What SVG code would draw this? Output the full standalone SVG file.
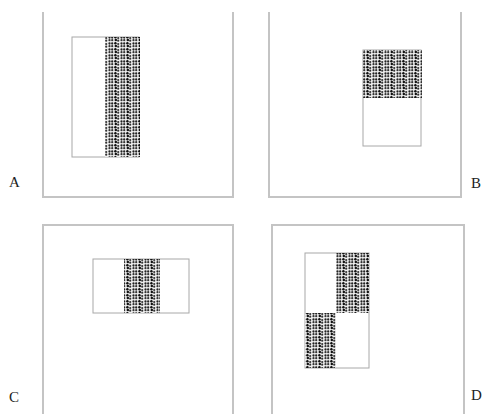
<svg xmlns="http://www.w3.org/2000/svg" width="488" height="414" viewBox="0 0 488 414">
<style>
.frame{fill:none;stroke:#c4c4c4;stroke-width:2}
.box{fill:#fff;stroke:#a8a8a8;stroke-width:1}
.dots{fill:url(#dp);stroke:none}
.lbl{font-family:"Liberation Serif",serif;font-size:15px;fill:#222}
</style>
<defs>
<pattern id="dp" patternUnits="userSpaceOnUse" width="12" height="6">
<rect width="12" height="6" fill="#eeeeee"/>
<circle cx="1.5" cy="1.5" r="1.15" fill="#222"/>
<circle cx="4.2" cy="1.5" r="1.15" fill="#222"/>
<circle cx="1.5" cy="4.2" r="1.1" fill="#333"/>
<circle cx="4.2" cy="4.2" r="1.1" fill="#333"/>
<circle cx="7.4" cy="1.3" r="1.25" fill="#111"/>
<circle cx="7.8" cy="3.9" r="1.25" fill="#111"/>
<circle cx="10.2" cy="2" r="1.1" fill="#333"/>
<circle cx="10.2" cy="4.7" r="1.1" fill="#333"/>
</pattern>
</defs>
<rect width="488" height="414" fill="#fff"/>
<g id="panelA">
<path class="frame" d="M43,12 V197 H233 V12"/>
<rect class="box" x="72" y="37" width="67" height="120"/>
<rect class="dots" x="105" y="37" width="35" height="120"/>
<text class="lbl" x="9" y="187">A</text>
</g>
<g id="panelB">
<path class="frame" d="M269,12 V197 H461 V12"/>
<rect class="box" x="363" y="50" width="58" height="96"/>
<rect class="dots" x="363" y="50" width="59" height="48"/>
<text class="lbl" x="471" y="188">B</text>
</g>
<g id="panelC">
<path class="frame" d="M43,414 V225 H233 V414"/>
<rect class="box" x="93" y="259" width="96" height="54"/>
<rect class="dots" x="124" y="259" width="36" height="54"/>
<text class="lbl" x="9" y="402">C</text>
</g>
<g id="panelD">
<path class="frame" d="M272,414 V225 H464 V414"/>
<rect class="box" x="305" y="253" width="64" height="115"/>
<rect class="dots" x="336" y="253" width="33" height="60"/>
<rect class="dots" x="305" y="313" width="31" height="55"/>
<text class="lbl" x="471" y="400">D</text>
</g>
<g id="connectors"></g>
</svg>
